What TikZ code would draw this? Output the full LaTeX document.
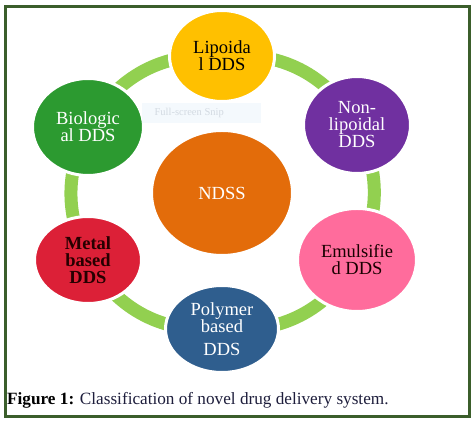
\documentclass[tikz,border=0pt]{standalone}
\usepackage{fontspec}
\setmainfont{Liberation Serif}
\usetikzlibrary{shapes.geometric,backgrounds}
\definecolor{frameg}{HTML}{3B5E2B}
\definecolor{ringg}{HTML}{92D050}
\definecolor{cyel}{HTML}{FFC000}
\definecolor{cpur}{HTML}{7030A0}
\definecolor{cgrn}{HTML}{2C9A30}
\definecolor{corg}{HTML}{E36C0A}
\definecolor{cred}{HTML}{DC2037}
\definecolor{cpnk}{HTML}{FF6C9C}
\definecolor{cblu}{HTML}{2F5E8E}
\definecolor{capc}{HTML}{1E1E3C}
\definecolor{snipbg}{HTML}{F3F8FD}
\definecolor{sniptx}{HTML}{D3DAE2}
\tikzset{
  blob/.style={ellipse, inner sep=0pt, draw=white, line width=3pt, align=center,
    font=\fontsize{18.5}{17}\selectfont},
  ring/.style={ringg, line width=13pt},
}
\begin{document}
\begin{tikzpicture}[x=1pt,y=1pt]
\useasboundingbox (0,0) rectangle (474,422);
% circles
\node[blob, fill=cyel, minimum width=105pt, minimum height=91pt, text=black] (lip) at (222,366) {Lipoida\\l DDS};
\node[blob, fill=cpur, minimum width=107pt, minimum height=97pt, text=white] (non) at (357,297) {Non-\\lipoidal\\DDS};
\node[blob, fill=cgrn, minimum width=111pt, minimum height=97pt, text=white] (bio) at (88,295) {Biologic\\al DDS};
\node[blob, fill=corg, minimum width=141pt, minimum height=125pt, text=white] (ndss) at (222,229) {NDSS};
\node[blob, fill=cred, minimum width=107pt, minimum height=87pt, text=black!85!red] (met) at (88,162) {\textbf{Metal}\\\textbf{based}\\\textbf{DDS}};
\node[blob, fill=cpnk, minimum width=119pt, minimum height=103pt, text=black!90!red] (emu) at (357,162) {Emulsifie\\d DDS};
\node[blob, fill=cblu, minimum width=113pt, minimum height=87pt, text=white] (pol) at (222,93) {Polymer\\based\\[6pt]DDS};
% ring connectors
\begin{pgfonlayer}{background}
\fill[white] (0,0) rectangle (474,422);
\draw[ring] (bio.center) to[bend left=32] (lip.center);
\draw[ring] (lip.center) to[bend left=32] (non.center);
\draw[ring] (non.center) to[bend left=26] (emu.center);
\draw[ring] (emu.center) to[bend left=32] (pol.center);
\draw[ring] (pol.center) to[bend left=32] (met.center);
\draw[ring] (met.center) to[bend left=26] (bio.center);
\end{pgfonlayer}
\draw[frameg, line width=3pt] (5.5,5.5) rectangle (469.5,415.5);
% faint snip artifact
\node[fill=snipbg, fill opacity=0.85, text opacity=1, minimum width=119pt, minimum height=20pt, inner sep=0pt, anchor=west, text=sniptx, font=\fontsize{10.5}{11}\selectfont] (snip) at (142,309) {\hspace*{-25pt}Full-screen Snip};
% caption
\node[anchor=base west, inner sep=0pt, text=capc, font=\fontsize{17.2}{18}\selectfont] (cap) at (7,17) {\textcolor{black}{\textbf{Figure 1:}} Classification of novel drug delivery system.};
\end{tikzpicture}
\end{document}
